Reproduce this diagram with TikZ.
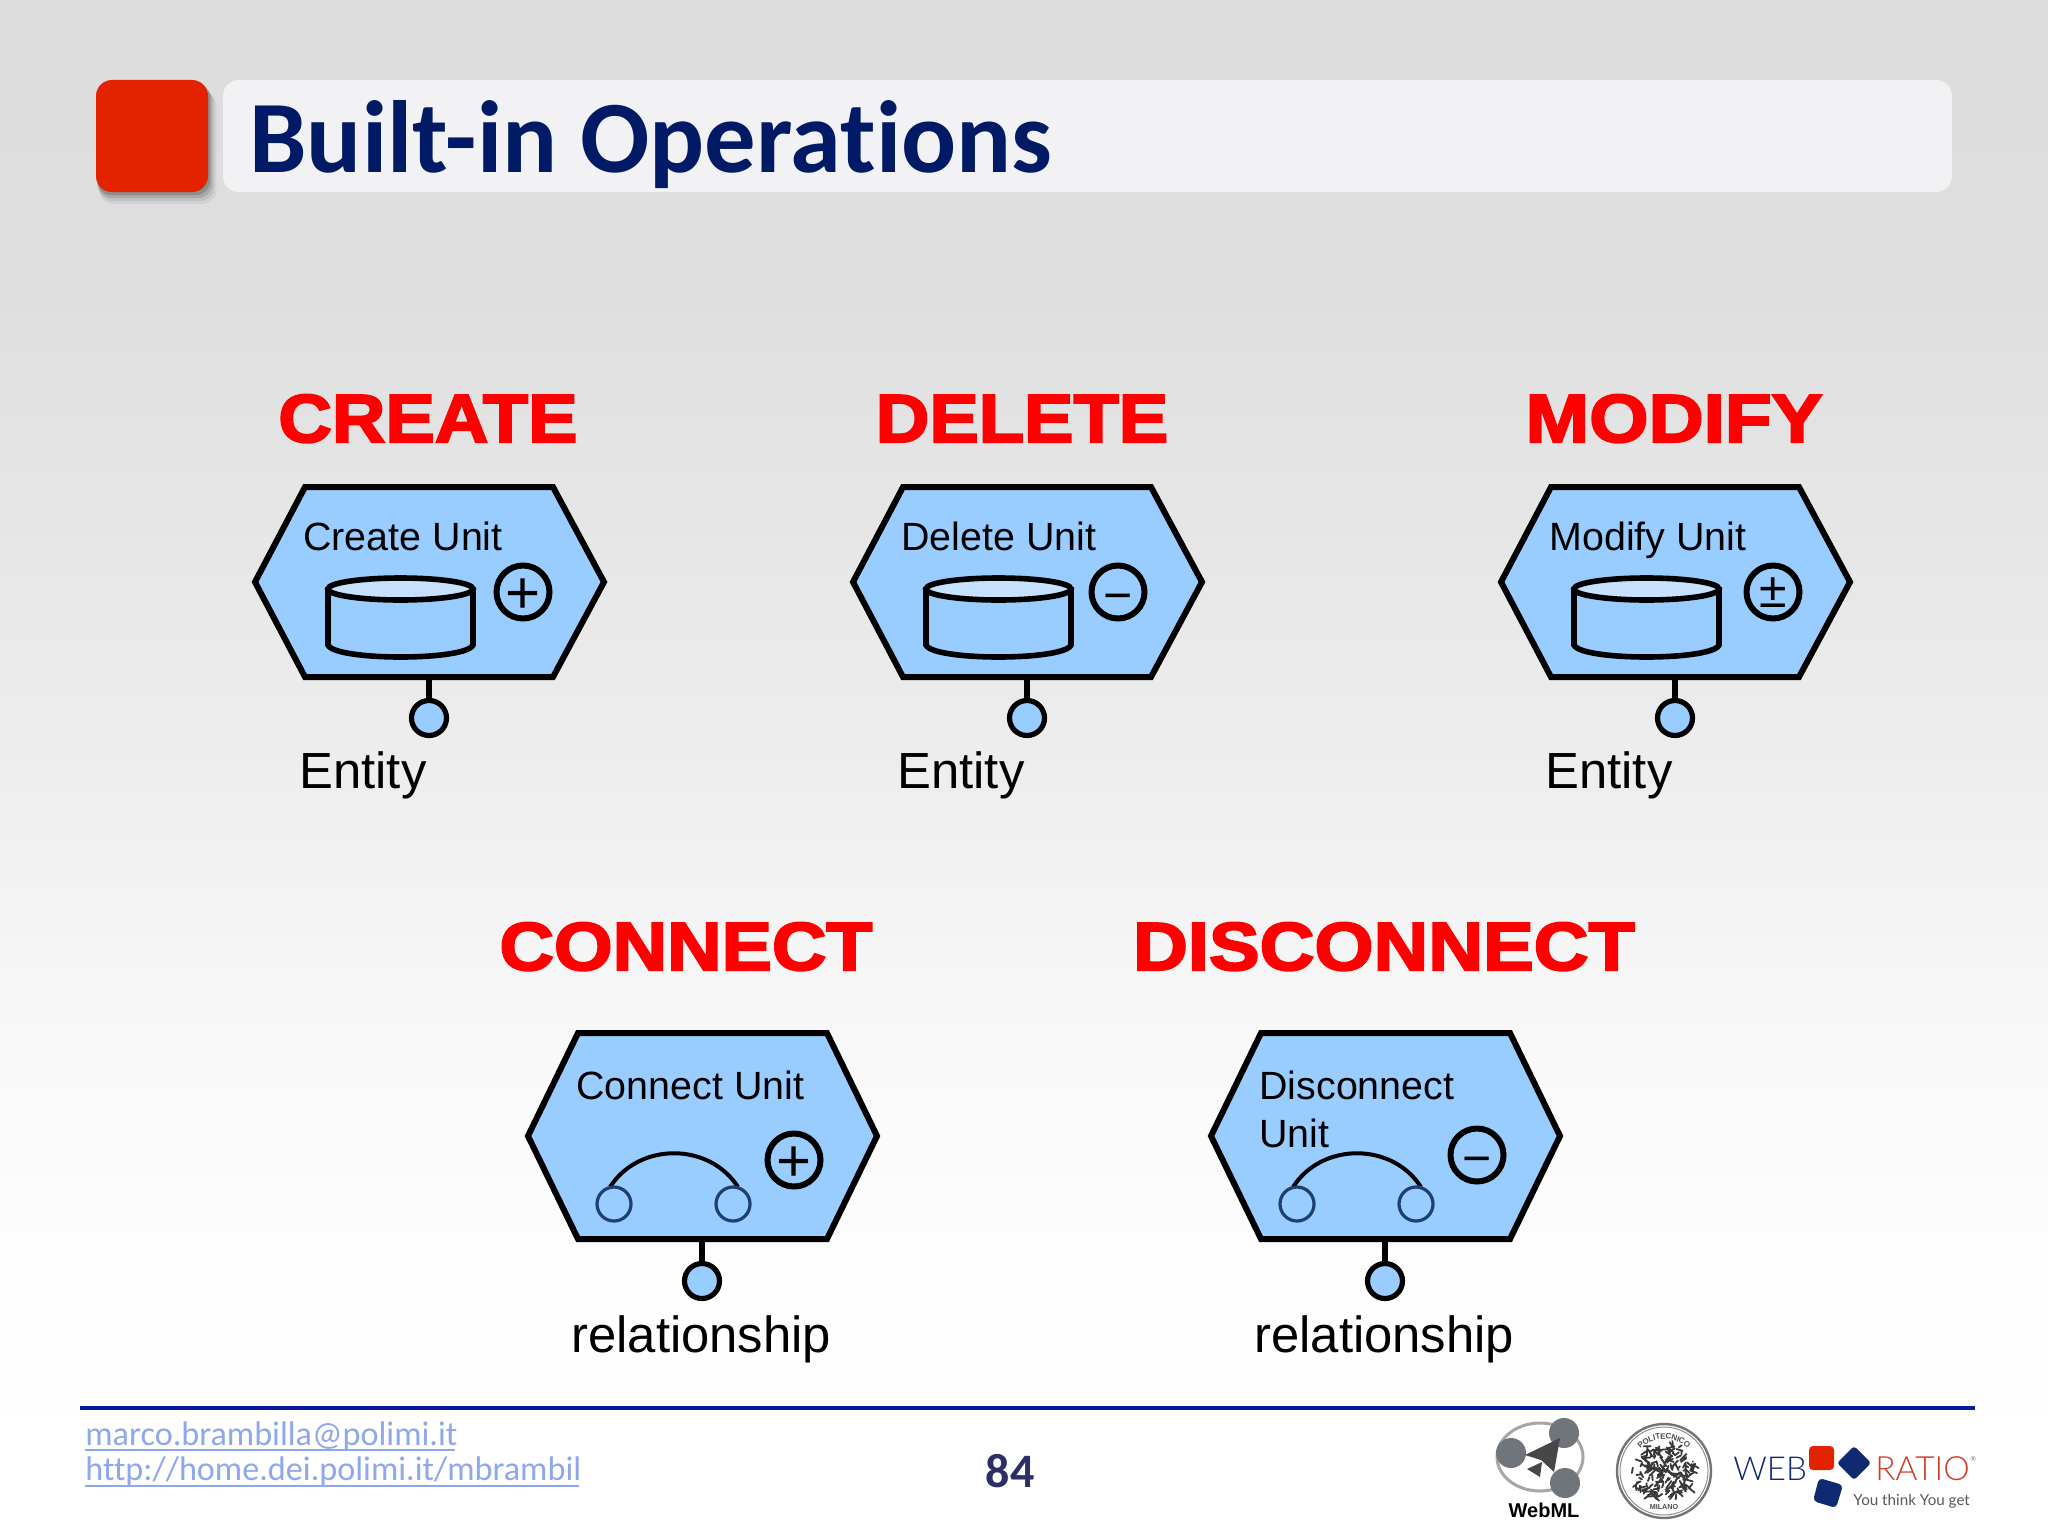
\documentclass[tikz,border=0pt]{standalone}
\usepackage{fontspec}
\usepackage{graphicx}
\setmainfont{Liberation Sans}
\newfontfamily\titlef[UprightFont=* Bold,Ligatures=NoCommon]{Carlito}
\newfontfamily\linkf[Ligatures=NoCommon]{Carlito}
\newfontfamily\heavyf[UprightFont=* Bold,UprightFeatures={FakeBold=3,FakeStretch=1.09}]{Liberation Sans}
\newfontfamily\boldf[UprightFont=* Bold]{Liberation Sans}
\newfontfamily\logof{Lato}
\newfontfamily\logolight{Lato Light}
\usetikzlibrary{decorations.text}
\definecolor{hexfill}{HTML}{99CCFF}
\definecolor{toplight}{HTML}{C6E2FF}
\definecolor{redbox}{HTML}{E32200}
\definecolor{barfill}{HTML}{F2F2F4}
\definecolor{titleblue}{HTML}{001A66}
\definecolor{linkblue}{HTML}{8FA8EC}
\definecolor{numblue}{HTML}{2E2E66}
\definecolor{rulecol}{HTML}{0A1A9A}
\definecolor{wrnavy}{HTML}{0F2A70}
\definecolor{wrred}{HTML}{D23A24}
\definecolor{portblue}{HTML}{1F3F6F}
\definecolor{logogray}{HTML}{6F757B}
\tikzset{
  x=0.5pt,y=-0.5pt,
  hexa/.style={draw=black,fill=hexfill,line width=3pt,line join=miter},
  portdot/.style={circle,draw=black,fill=hexfill,line width=2.6pt,minimum size=17.5pt,inner sep=0pt},
  stemline/.style={draw=black,line width=2.6pt},
  opcirc/.style={circle,draw=black,line width=3pt,fill=hexfill,minimum size=26.5pt,inner sep=0pt},
  opsign/.style={anchor=base,inner sep=0pt},
  unitlabel/.style={anchor=base west,inner sep=0pt,font=\fontsize{19.7pt}{24pt}\selectfont},
  biglabel/.style={anchor=base west,inner sep=0pt,font=\fontsize{25.4pt}{30pt}\selectfont},
  heading/.style={anchor=base,inner sep=0pt,text=red,font=\heavyf\fontsize{34pt}{36pt}\selectfont},
  cyl/.style={draw=black,line width=2.8pt,fill=hexfill},
  cyltop/.style={draw=black,line width=2.8pt,fill=toplight},
  linkpin/.style={circle,draw=portblue,line width=1.6pt,minimum size=17pt,inner sep=0pt,fill=hexfill},
  arcline/.style={draw=black,line width=2pt},
  linktext/.style={anchor=base west,inner sep=0pt,text=linkblue,font=\linkf\fontsize{17.1pt}{20pt}\selectfont},
  linkrule/.style={draw=linkblue,line width=1pt},
}
% name, dx, label, sign, circle x, sign size (pt), sign base y
\newcommand{\rowunit}[7]{%
\begin{scope}[shift={(#2,0)}]
  \draw[hexa] (305,487)--(553,487)--(604,582)--(553,677)--(305,677)--(255,582)--cycle;
  \node[unitlabel] (#1-title) at (303,550) {#3};
  \draw[cyl] (328,590) -- (328,645) .. controls (335,661) and (466,661) .. (473,645) -- (473,590) -- cycle;
  \draw[cyltop] (400.5,589) ellipse [x radius=72.5,y radius=11];
  \node[opcirc] (#1-op) at (#5,592) {};
  \node[opsign,font=\fontsize{#6pt}{#6pt}\selectfont] at (#5,#7) {#4};
  \coordinate (#1-bottom) at (429,677);
  \node[portdot] (#1-port) at (429,718) {};
  \draw[stemline] (#1-bottom) -- (#1-port);
  \node[biglabel] (#1-target) at (299,788) {Entity};
\end{scope}}
% name, dx, label, sign, circle x, circle y, sign size, sign base y
\newcommand{\rowlink}[8]{%
\begin{scope}[shift={(#2,0)}]
  \draw[hexa] (1261,1033)--(1510,1033)--(1560,1136)--(1510,1239)--(1261,1239)--(1211,1136)--cycle;
  \node[unitlabel,align=left,anchor=north west] (#1-title) at (1259,1071) {#3};
  \draw[arcline] (1293,1187) .. controls (1322,1142) and (1392,1142) .. (1421,1187);
  \node[linkpin] (#1-pina) at (1297,1204) {};
  \node[linkpin] (#1-pinb) at (1416,1204) {};
  \node[opcirc] (#1-op) at (#5,#6) {};
  \node[opsign,font=\fontsize{#7pt}{#7pt}\selectfont] at (#5,#8) {#4};
  \coordinate (#1-bottom) at (1385,1239);
  \node[portdot] (#1-port) at (1385,1281) {};
  \draw[stemline] (#1-bottom) -- (#1-port);
  \node[biglabel] (#1-target) at (1254,1352) {relationship};
\end{scope}}
\begin{document}
\begin{tikzpicture}
\useasboundingbox (0,0) rectangle (2048,1536);
% background
\definecolor{bg0}{HTML}{DCDCDC}\definecolor{bg1}{HTML}{DFDFDF}\definecolor{bg2}{HTML}{E6E6E6}
\definecolor{bg3}{HTML}{EEEEEE}\definecolor{bg4}{HTML}{F4F4F4}\definecolor{bg5}{HTML}{FAFAFA}
\definecolor{bg6}{HTML}{FEFEFE}
\shade[top color=bg0,bottom color=bg1] (0,0) rectangle (2048,301);
\shade[top color=bg1,bottom color=bg2] (0,300) rectangle (2048,521);
\shade[top color=bg2,bottom color=bg3] (0,520) rectangle (2048,781);
\shade[top color=bg3,bottom color=bg4] (0,780) rectangle (2048,921);
\shade[top color=bg4,bottom color=bg5] (0,920) rectangle (2048,1101);
\shade[top color=bg5,bottom color=bg6] (0,1100) rectangle (2048,1301);
\shade[top color=bg6,bottom color=white] (0,1300) rectangle (2048,1536);
% title band
\foreach \o/\s in {12/0.05,9/0.08,6/0.12,3/0.16}{
  \fill[black,opacity=\s,rounded corners=7pt] (96+\o*0.3,80+\o) rectangle (208+\o*0.7,192+\o);
}
\fill[barfill,rounded corners=8pt] (223,80) rectangle (1952,192);
\fill[redbox,rounded corners=8pt] (96,80) rectangle (208,192);
\node[anchor=base west,inner sep=0pt,text=titleblue,font=\titlef\fontsize{51.3pt}{54pt}\selectfont] (title) at (249,172) {Built-in Operations};
% headings
\node[heading] (h-create) at (428,442) {CREATE};
\node[heading] (h-delete) at (1022,442) {DELETE};
\node[heading] (h-modify) at (1674,442) {\scalebox{1.03}[1]{MODIFY}};
\node[heading] (h-connect) at (686,970) {\scalebox{1.018}[1]{CONNECT}};
\node[heading] (h-disconnect) at (1384,970) {\scalebox{1.024}[1]{DISCONNECT}};
% units
\rowunit{create}{0}{Create Unit}{+}{523}{30}{613}
\rowunit{delete}{598}{Delete Unit}{−}{520}{25}{612}
\rowunit{modify}{1246}{Modify Unit}{±}{527}{25}{607}
\rowlink{connect}{-683}{Connect Unit}{+}{1477}{1160}{30}{1181}
\rowlink{disconnect}{0}{Disconnect\\Unit}{−}{1477}{1155}{25}{1175}
% footer
\draw[draw=rulecol,line width=1.6pt] (80,1408) -- (1975,1408);
\node[linktext] (mail) at (85,1445) {marco.brambilla@polimi.it};
\draw[linkrule] (85,1450) -- (455,1450);
\node[linktext] (url) at (85,1480) {http://home.dei.polimi.it/mbrambil};
\draw[linkrule] (85,1486) -- (579,1486);
\node[anchor=base,inner sep=0pt,text=numblue,font=\titlef\fontsize{24pt}{26pt}\selectfont] (page) at (1010,1487) {84};
% WebML logo
\draw[draw=black!35,line width=1.5pt] (1540,1457) ellipse [x radius=43,y radius=34];
\fill[logogray] (1511,1453) circle [radius=15];
\fill[logogray] (1564,1433) circle [radius=15];
\fill[logogray] (1565,1483) circle [radius=15];
\fill[black!72] (1560,1438) -- (1525,1455) -- (1541,1460) -- (1554,1472) -- cycle;
\fill[black!72] (1542,1462) -- (1527,1469) -- (1540,1477) -- cycle;
\node[anchor=base,inner sep=0pt,font=\boldf\fontsize{10pt}{11pt}\selectfont] (webml) at (1544,1517) {WebML};
% Politecnico seal
\fill[white] (1664,1471) circle [radius=48];
\draw[draw=black!55,line width=1.2pt] (1664,1471) circle [radius=47];
\draw[draw=black!45,line width=.5pt] (1664,1471) circle [radius=44];
\path[decorate,decoration={text along path,text align=center,raise=-1pt,text={|\boldf\fontsize{4pt}{5pt}\selectfont\color{black!70}|POLITECNICO}}]
  (1628,1473) arc [start angle=180,end angle=360,radius=36];
\node[inner sep=0pt,text=black!70,font=\boldf\fontsize{3.6pt}{4pt}\selectfont] (seal-city) at (1664,1507) {MILANO};
\pgfmathsetseed{11}
\foreach \k in {1,...,190}{
  \pgfmathsetmacro{\sa}{rand*180+180}
  \pgfmathsetmacro{\sr}{sqrt(rnd)*32}
  \pgfmathsetmacro{\sx}{1664+\sr*cos(\sa)}
  \pgfmathsetmacro{\sy}{1472+\sr*sin(\sa)*0.9}
  \pgfmathsetmacro{\sd}{rand*7}
  \pgfmathsetmacro{\se}{rand*7}
  \draw[draw=black!78,line width=.9pt,line cap=round] (\sx,\sy) -- (\sx+\sd,\sy+\se);
}
% WebRatio logo
\node[anchor=base west,inner sep=0pt,text=wrnavy,font=\logolight\fontsize{16.5pt}{18pt}\selectfont] (wr-web) at (1733,1480) {WEB};
\node[anchor=base west,inner sep=0pt,text=wrred,font=\logolight\fontsize{16.7pt}{18pt}\selectfont] (wr-ratio) at (1875,1480) {RATIO};
\node[anchor=base west,inner sep=0pt,text=black!50,font=\logof\fontsize{3.5pt}{4pt}\selectfont] (wr-reg) at (1970,1461) {®};
\node[anchor=base west,inner sep=0pt,text=black!65,font=\logof\fontsize{7.6pt}{9pt}\selectfont] (wr-tag) at (1853,1505) {You think You get};
\fill[redbox,rounded corners=2pt] (1809,1446) rectangle (1834,1470);
\fill[wrnavy,rounded corners=1.5pt] (1854,1446) -- (1871,1463) -- (1854,1480) -- (1837,1463) -- cycle;
\fill[wrnavy,rounded corners=2pt] (1819,1478) -- (1843,1485) -- (1836,1508) -- (1813,1501) -- cycle;
\end{tikzpicture}
\end{document}
